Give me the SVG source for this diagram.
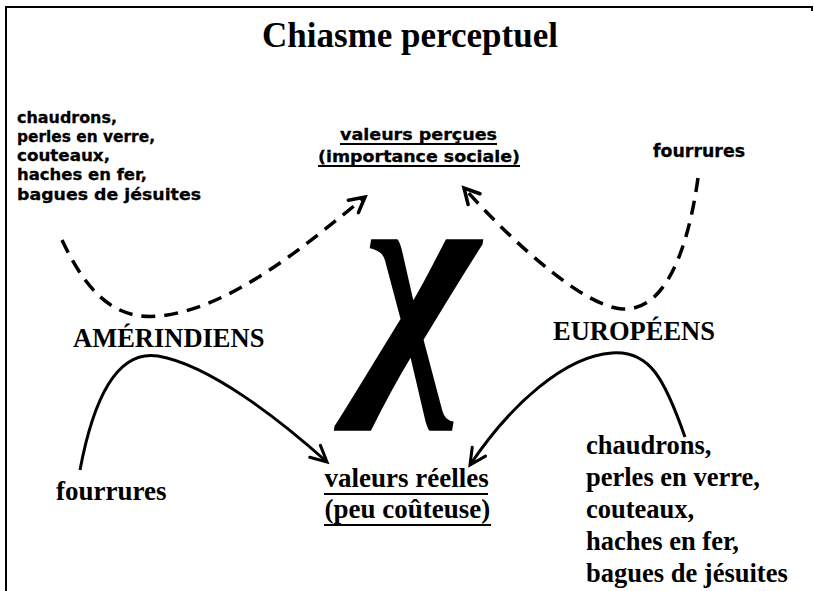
<svg xmlns="http://www.w3.org/2000/svg" width="814" height="591" viewBox="0 0 814 591">
<defs>
<style>
.serif{font-family:"Liberation Serif","Times New Roman",serif;font-weight:bold;fill:#000}
.sans{font-family:"DejaVu Sans","Liberation Sans",sans-serif;font-weight:bold;font-size:17px;fill:#000;stroke:#000;stroke-width:0.3}
.sm{font-size:16px}
.dash{fill:none;stroke:#000;stroke-width:3.5;stroke-dasharray:14 9}
.solid{fill:none;stroke:#000;stroke-width:3}
.ul{stroke:#000;stroke-width:1.8}
</style>
<marker id="ah" markerUnits="userSpaceOnUse" markerWidth="30" markerHeight="30" viewBox="-20 -15 30 30" refX="0" refY="0" orient="auto">
<path d="M-15,-8 L0,0 L-15,8" fill="none" stroke="#000" stroke-width="3.5" stroke-linecap="round"/>
</marker>
<marker id="ahs" markerUnits="userSpaceOnUse" markerWidth="30" markerHeight="30" viewBox="-20 -15 30 30" refX="0" refY="0" orient="auto">
<path d="M-16,-8 L0,0 L-16,8" fill="none" stroke="#000" stroke-width="3" stroke-linecap="round"/>
</marker>
</defs>
<rect width="814" height="591" fill="#fff"/>
<path d="M6,591 V7 H812 V11" fill="none" stroke="#000" stroke-width="2"/>

<g id="title"><text class="serif" x="410" y="47" font-size="35" text-anchor="middle">Chiasme perceptuel</text></g>

<g id="chi"><text class="serif" transform="matrix(0.88 0 0 1 421 0)" x="0" y="370" font-size="285" font-style="italic" text-anchor="middle">χ</text></g>

<g id="connectors">
<path class="dash" d="M62,240 C90,300 120,320 160,316 C230,308 300,250 365,197" marker-end="url(#ah)"/>
<path class="dash" d="M698,178 C688,250 665,312 622,309 C585,306 520,250 464,188" marker-end="url(#ah)"/>
<path class="solid" d="M80,470 C95,390 120,350 158,356 C210,365 280,420 327,462" marker-end="url(#ahs)"/>
<path class="solid" d="M685,437 C665,380 650,350 612,353 C565,356 510,405 470,465" marker-end="url(#ahs)"/>
</g>

<g id="amerindiens-goods">
<text class="sans sm" x="17" y="122.5" textLength="100" lengthAdjust="spacingAndGlyphs">chaudrons,</text>
<text class="sans sm" x="17" y="141.8" textLength="138" lengthAdjust="spacingAndGlyphs">perles en verre,</text>
<text class="sans sm" x="17" y="161.1" textLength="93" lengthAdjust="spacingAndGlyphs">couteaux,</text>
<text class="sans sm" x="17" y="180.4" textLength="130" lengthAdjust="spacingAndGlyphs">haches en fer,</text>
<text class="sans sm" x="17" y="199.7" textLength="184" lengthAdjust="spacingAndGlyphs">bagues de jésuites</text>
</g>

<g id="valeurs-percues">
<text class="sans sm" x="340" y="140" textLength="157" lengthAdjust="spacingAndGlyphs">valeurs perçues</text>
<line class="ul" x1="340" y1="144" x2="497" y2="144"/>
<text class="sans sm" x="318" y="161.5" textLength="202" lengthAdjust="spacingAndGlyphs">(importance sociale)</text>
<line class="ul" x1="318" y1="166" x2="520" y2="166"/>
</g>

<g id="europeens-fourrures"><text class="sans" x="653" y="157" textLength="92" lengthAdjust="spacingAndGlyphs">fourrures</text></g>

<g id="amerindiens"><text class="serif" x="73" y="347" font-size="26.5">AMÉRINDIENS</text></g>
<g id="europeens"><text class="serif" x="553" y="340" font-size="26.5">EUROPÉENS</text></g>

<g id="fourrures"><text class="serif" x="56" y="500" font-size="27">fourrures</text></g>

<g id="valeurs-reelles">
<text class="serif" x="324.5" y="487" font-size="27">valeurs réelles</text>
<line x1="324" y1="494" x2="488" y2="494" stroke="#000" stroke-width="2.2"/>
<text class="serif" x="324.5" y="518" font-size="27">(peu coûteuse)</text>
<line x1="324" y1="525" x2="491" y2="525" stroke="#000" stroke-width="2.2"/>
</g>

<g id="europeens-goods">
<text class="serif" x="586" y="454" font-size="26.5">chaudrons,</text>
<text class="serif" x="586" y="486" font-size="26.5">perles en verre,</text>
<text class="serif" x="586" y="518" font-size="26.5">couteaux,</text>
<text class="serif" x="586" y="550" font-size="26.5">haches en fer,</text>
<text class="serif" x="586" y="582" font-size="26.5">bagues de jésuites</text>
</g>
</svg>
